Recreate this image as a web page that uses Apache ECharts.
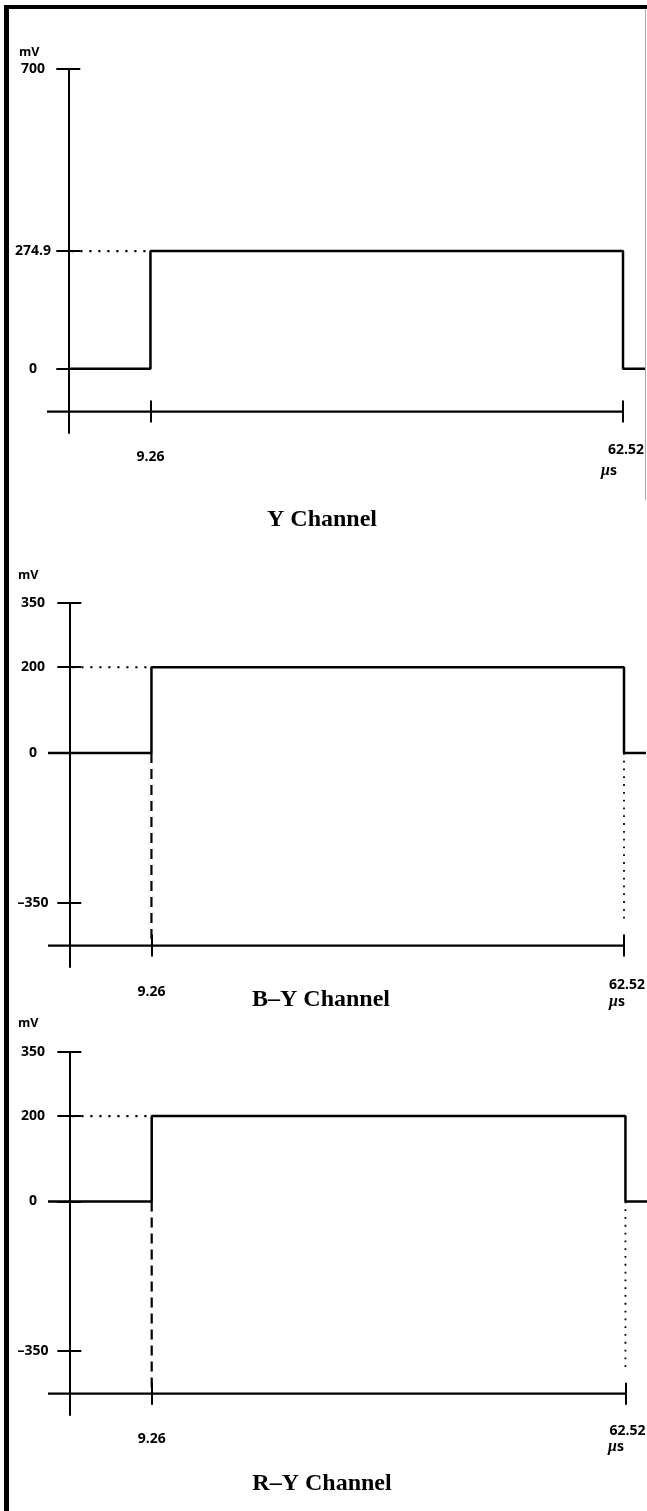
<!DOCTYPE html>
<html><head><meta charset="utf-8">
<script src="https://cdn.jsdelivr.net/npm/echarts@6/dist/echarts.min.js"></script>
<style>html,body{margin:0;padding:0;background:#fff}#c{width:647px;height:1511px}</style>
</head><body><div id="c"></div>
<script>
// ---- data ----
const xTickValues = [9.26, 62.52];
const timeRange = [-2.4, 65];
const yTicksY = [0, 274.9, 700];
const yTicksBY = [-350, 0, 200, 350];
const yTicksRY = [-350, 0, 200, 350];
const yRangeY = [-150, 700];
const yRangeBY = [-500, 350];
const yRangeRY = [-500, 350];
const timeAxisY = [[-2.4, -100], [62.52, -100]];
const timeAxisBY = [[-2.4, -450], [62.52, -450]];
const timeAxisRY = [[-2.4, -450], [62.52, -450]];
const signalY = [[0, 0], [9.26, 0], [9.26, 274.9], [62.52, 274.9], [62.52, 0], [65, 0]];
const signalBY = [[-2.4, 0], [9.26, 0], [9.26, 200], [62.52, 200], [62.52, 0], [65, 0]];
const signalRY = [[-2.4, 0], [9.26, 0], [9.26, 200], [62.52, 200], [62.52, 0], [65, 0]];
const guideY = [[0, 274.9], [9.26, 274.9]];
const guideBY = [[0, 200], [9.26, 200]];
const guideRY = [[0, 200], [9.26, 200]];
const riseDropBY = [[9.26, 0], [9.26, -450]];
const riseDropRY = [[9.26, 0], [9.26, -450]];
const fallDropBY = [[62.52, 0], [62.52, -400]];
const fallDropRY = [[62.52, 0], [62.52, -400]];
const channelTitles = ['Y Channel', 'B–Y Channel', 'R–Y Channel'];
const yUnit = 'mV';

// ---- layout / style ----
const INK = '#000';
const LBL = {fontFamily: 'Open Sans', fontWeight: 'bold', fontSize: 14, color: INK};
const panels = [
  {ticks: yTicksY, range: yRangeY, axisLine: timeAxisY, signal: signalY, guide: guideY, rise: null, fall: null,
   title: channelTitles[0], box: {left: 47, top: 69, width: 598, height: 364},
   xMargin: 31, pad9: 7, pad62: [0, 0, 0, 6], yMargin: 14,
   unitPos: [19, 52], usPos: [609, 471], titlePos: [322, 520]},
  {ticks: yTicksBY, range: yRangeBY, axisLine: timeAxisBY, signal: signalBY, guide: guideBY, rise: riseDropBY, fall: fallDropBY,
   title: channelTitles[1], box: {left: 48, top: 603, width: 598, height: 364},
   xMargin: 32, pad9: 7, pad62: [0, 0, 0, 6], yMargin: 15,
   unitPos: [18, 575], usPos: [617, 1002], titlePos: [321, 1000]},
  {ticks: yTicksRY, range: yRangeRY, axisLine: timeAxisRY, signal: signalRY, guide: guideRY, rise: riseDropRY, fall: fallDropRY,
   title: channelTitles[2], box: {left: 48, top: 1052, width: 599.5, height: 363},
   xMargin: 30, pad9: 8, pad62: [0, 0, 0, 4], yMargin: 15,
   unitPos: [18, 1023], usPos: [616, 1447], titlePos: [322, 1484]}
];

const fmtNum = v => String(v).replace('-', '–');

const option = {
  animation: false,
  backgroundColor: '#fff',
  grid: [], xAxis: [], yAxis: [], series: [], title: [],
  graphic: [
    {type: 'rect', shape: {x: 4, y: 5, width: 5, height: 1506}, style: {fill: '#000'}},
    {type: 'rect', shape: {x: 4, y: 5, width: 643, height: 4}, style: {fill: '#000'}},
    {type: 'line', shape: {x1: 645.5, y1: 9, x2: 645.5, y2: 500}, style: {stroke: '#aaa', lineWidth: 1}}
  ]
};

panels.forEach((p, i) => {
  option.grid.push(Object.assign({containLabel: false, outerBoundsMode: 'none'}, p.box));
  const xBase = {
    type: 'value', gridIndex: i, min: timeRange[0], max: timeRange[1], position: 'bottom',
    splitLine: {show: false}
  };
  const pxPerUnit = p.box.height / (p.range[1] - p.range[0]);
  const off = -(p.axisLine[0][1] - p.range[0]) * pxPerUnit;
  option.xAxis.push(Object.assign({}, xBase, {
    offset: off,
    axisLine: {show: false, onZero: false},
    axisTick: {show: true, customValues: xTickValues, length: 11, lineStyle: {color: INK, width: 2}},
    axisLabel: {
      show: true, customValues: xTickValues, margin: p.xMargin,
      formatter: v => (Math.abs(v - 62.52) < 1e-6 ? '{b|' + fmtNum(v) + '}' : '{a|' + fmtNum(v) + '}'),
      rich: {
        a: Object.assign({padding: [p.pad9, 0, 0, 0]}, LBL),
        b: Object.assign({padding: p.pad62}, LBL)
      }
    }
  }));
  option.xAxis.push(Object.assign({}, xBase, {
    offset: off,
    axisLine: {show: false, onZero: false},
    axisTick: {show: true, inside: true, customValues: xTickValues, length: 11, lineStyle: {color: INK, width: 2}},
    axisLabel: {show: false}
  }));
  const yBase = {
    type: 'value', gridIndex: i, min: p.range[0], max: p.range[1], position: 'left', splitLine: {show: false}
  };
  option.yAxis.push(Object.assign({}, yBase, {
    axisLine: {show: true, onZero: true, onZeroAxisIndex: 2 * i, lineStyle: {color: INK, width: 2}},
    axisTick: {show: true, customValues: p.ticks, length: 12, lineStyle: {color: INK, width: 2}},
    axisLabel: Object.assign({show: true, customValues: p.ticks, margin: p.yMargin, align: 'center', formatter: fmtNum}, LBL)
  }));
  option.yAxis.push(Object.assign({}, yBase, {
    axisLine: {show: false, onZero: true, onZeroAxisIndex: 2 * i + 1},
    axisTick: {show: true, inside: true, customValues: p.ticks, length: 12, lineStyle: {color: INK, width: 2}},
    axisLabel: {show: false}
  }));
  const ax = {xAxisIndex: 2 * i, yAxisIndex: 2 * i};
  option.series.push(Object.assign({
    type: 'line', data: p.axisLine, symbol: 'none', clip: false, z: 4,
    lineStyle: {color: INK, width: 2.2}
  }, ax));
  option.series.push(Object.assign({
    type: 'line', data: p.signal, symbol: 'none', clip: false, z: 5,
    lineStyle: {color: INK, width: 2.5}
  }, ax));
  option.series.push(Object.assign({
    type: 'line', data: p.guide, symbol: 'none', clip: false,
    lineStyle: {color: INK, width: 2.2, type: [2.2, 6.8], dashOffset: -3}
  }, ax));
  if (p.rise) option.series.push(Object.assign({
    type: 'line', data: p.rise, symbol: 'none', clip: false,
    lineStyle: {color: INK, width: 2.2, type: [10, 6]}
  }, ax));
  if (p.fall) option.series.push(Object.assign({
    type: 'line', data: p.fall, symbol: 'none', clip: false,
    lineStyle: {color: INK, width: 1.8, type: [1.8, 6]}
  }, ax));
  option.title.push({
    text: yUnit, left: p.unitPos[0], top: p.unitPos[1], padding: 0,
    textAlign: 'left', textVerticalAlign: 'middle',
    textStyle: Object.assign({}, LBL, {fontSize: 12.5})
  });
  option.title.push({
    text: '{m|μ}{s|s}', left: p.usPos[0], top: p.usPos[1], padding: 0,
    textAlign: 'center', textVerticalAlign: 'middle',
    textStyle: {rich: {
      m: {fontFamily: 'Liberation Serif', fontStyle: 'italic', fontSize: 16, color: INK},
      s: {fontFamily: 'Open Sans', fontWeight: 'bold', fontSize: 14, color: INK}
    }}
  });
  option.title.push({
    text: p.title, left: p.titlePos[0], top: p.titlePos[1], padding: 0,
    textAlign: 'center', textVerticalAlign: 'middle',
    textStyle: {fontFamily: 'Liberation Serif', fontWeight: 'bold', fontSize: 24, color: INK}
  });
});

const chart = echarts.init(document.getElementById('c'), null, {renderer: 'canvas'});
chart.setOption(option);
</script>
</body></html>
